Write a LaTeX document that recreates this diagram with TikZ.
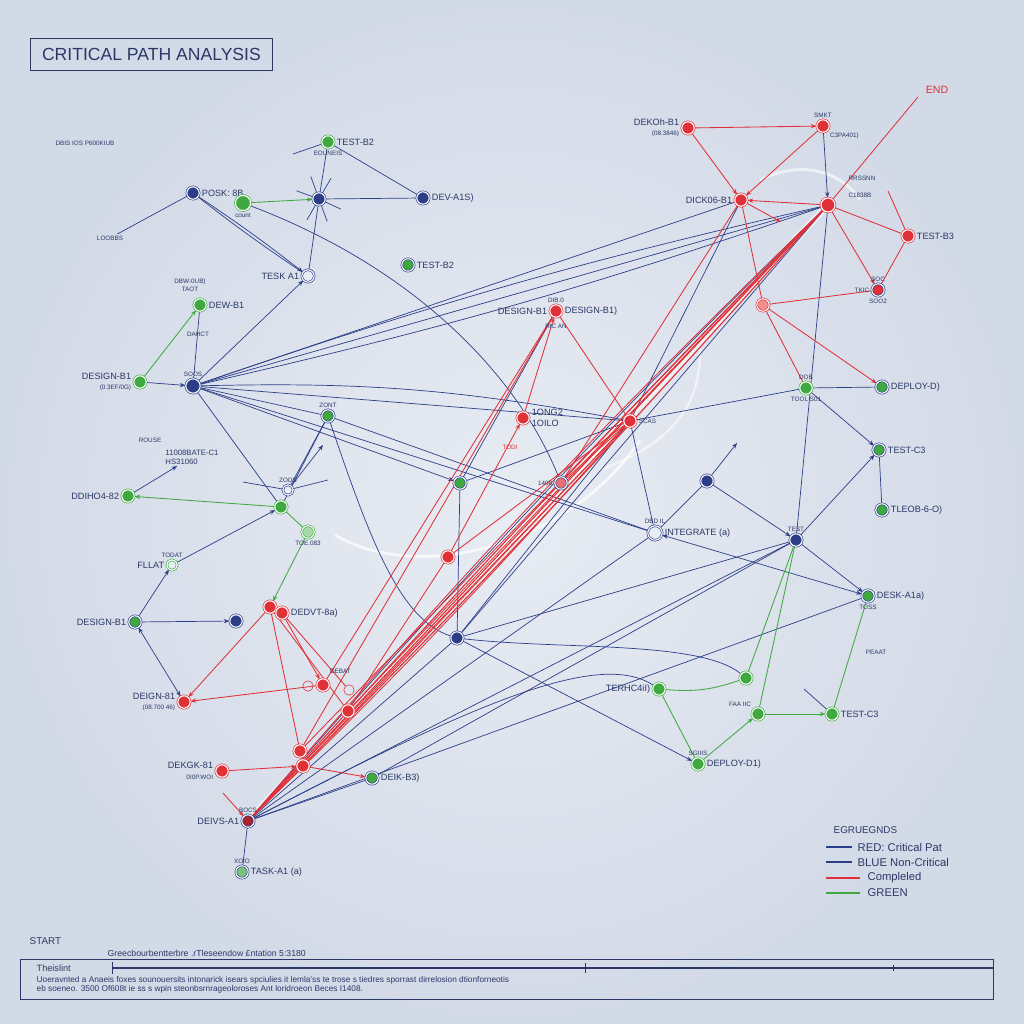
\documentclass[tikz,border=0pt]{standalone}
\usepackage{fontspec}
\setmainfont{Liberation Sans}
\usetikzlibrary{arrows.meta,backgrounds}

\definecolor{paper}{HTML}{D3DAE7}
\definecolor{paperlight}{HTML}{E8ECF3}
\definecolor{navy}{HTML}{2C3E88}
\definecolor{critred}{HTML}{DF3137}
\definecolor{donegreen}{HTML}{3FA940}
\definecolor{ink}{HTML}{2B3867}

\newcommand\labtxt{\fontsize{6.5}{7.5}\selectfont}
\newcommand\tinytxt{\fontsize{4.5}{5.5}\selectfont}

\begin{document}
\begin{tikzpicture}[
  x=0.25mm, y=-0.25mm,
  every node/.style={font=\labtxt, text=ink, inner sep=1pt},
  every label/.style={font=\labtxt, text=ink, inner sep=1.5pt},
  dot/.style={circle, minimum size=3.1mm, inner sep=0pt, line width=0.45pt, double distance=0.8pt},
  crit/.style={dot, fill=critred, draw=critred, double=white},
  noncrit/.style={dot, fill=navy, draw=navy, double=white},
  done/.style={dot, fill=donegreen, draw=donegreen, double=white},
  donebl/.style={dot, fill=donegreen, draw=navy, double=white},
  hollow/.style={dot, fill=paperlight, draw=navy, double=white},
  sub/.style={font=\tinytxt},
  flow/.style={navy, line width=0.5pt},
  critline/.style={critred, line width=0.6pt},
  doneline/.style={donegreen, line width=0.6pt},
  >={Stealth[length=4pt,width=3pt]}]

  \useasboundingbox (0,0) rectangle (1024,1024);

  % title
  \node (titlebox) [draw=ink, line width=0.6pt, minimum width=60.5mm, minimum height=8mm, anchor=north west, inner sep=0pt, font=\fontsize{12.5}{14}\selectfont] at (30,38) {CRITICAL PATH ANALYSIS};

  % left cluster
  \node (note)    at (85,143) {\tinytxt DBIS IOS P600KIUB};
  \node (loobbs)  at (110,238) {\tinytxt LOOBBS};
  \node (posk)    [noncrit, label={right:{POSK: 8B}}] at (193,193) {};
  \node (count)   [done, minimum size=3.8mm, label={[sub]below:count}] at (243,203) {};
  \node (hubA)    [noncrit] at (319,199) {};
  \node (devA)    [noncrit, label={right:DEV-A1S)}] at (423,198) {};
  \node (testBa)  [done, label={right:TEST-B2}, label={[sub]below:EOUNEIS}] at (328,142) {};
  \node (teskA)   [hollow, label={left:TESK A1}] at (308,276) {};
  \node (testBb)  [donebl, label={right:TEST-B2}] at (408,265) {};
  \node (dewtop)  [align=center, font=\tinytxt] at (190,285) {DBW-0UB)\\TAOT};
  \node (dewB)    [done, label={right:DEW-B1}] at (200,305) {};
  \node (dahct)   at (198,334) {\tinytxt DAHCT};
  \node (designBa)[done, label={[align=right]left:{DESIGN-B1\\\tinytxt(0.3EF/0G)}}] at (140,382) {};
  \node (hubB)    [noncrit, minimum size=3.6mm, label={[sub]above:SOOS}] at (193,386) {};
  \node (zont)    [donebl, label={[sub]above:ZONT}] at (328,416) {};
  \node (rouse)   at (150,440) {\tinytxt ROUSE};
  \node (batec)   [align=left, font=\fontsize{5.5}{6.5}\selectfont] at (192,457) {11008BATE-C1\\HS31060};
  \node (ddiho)   [done, label={left:DDIHO4-82}] at (128,496) {};
  \node (zods)    [hollow, minimum size=2.6mm, label={[sub]above:ZODS}] at (288,490) {};
  \node (midG)    [done] at (281,507) {};
  \node (toe)     [done, fill=donegreen!45, label={[sub]below:TOE.083}] at (308,532) {};
  \node (fllat)   [done, fill=paperlight, minimum size=2.6mm, label={left:FLLAT}, label={[sub]above:TODAT}] at (172,565) {};
  \node (designBb)[donebl, label={left:DESIGN-B1}] at (135,622) {};
  \node (blueC)   [noncrit] at (236,621) {};
  \node (dedvt)   [crit] at (270,607) {};
  \node (dedvtB)  [crit, label={right:DEDVT-8a)}] at (282,613) {};
  \node (deign)   [crit, label={[align=right]left:{DEIGN-81\\\tinytxt(08.700 46)}}] at (184,702) {};
  \node (ringa)   [circle, draw=critred, minimum size=2.6mm] at (308,686) {};
  \node (ringb)   [circle, draw=critred, minimum size=2.6mm] at (349,690) {};
  \node (debat)   [crit, label={[sub, yshift=3pt]above right:DEBAT}] at (323,685) {};
  \node (critE)   [crit] at (348,711) {};
  \node (critF)   [crit] at (300,751) {};
  \node (critG)   [crit] at (303,766) {};
  \node (dekgk)   [crit, label={[align=right]left:{DEKGK-81\\\tinytxt 0I0P.WOI}}] at (222,771) {};
  \node (deik)    [donebl, label={right:DEIK-B3)}] at (372,778) {};
  \node (start)   [noncrit, fill=critred!75!black, label={left:DEIVS-A1}, label={[sub]above:BOCS}] at (248,821) {};
  \node (taskA)   [donebl, fill=donegreen!70, label={right:TASK-A1 (a)}, label={[sub]above:XOIO}] at (242,872) {};

  % middle
  \node (designC) [crit, label={left:DESIGN-B1}, label={right:DESIGN-B1)}, label={[sub, yshift=-3pt]below:RIC AN}, label={[sub]above:DIB.0}] at (556,311) {};
  \node (long)    [crit, label={[align=left]right:{1ONG2\\1OILO}}] at (523,418) {};
  \node (todi)    [text=critred] at (510,447) {\tinytxt TODI};
  \node (midGreen)[donebl] at (460,483) {};
  \node (ringR)   [dot, fill=critred!70, draw=navy, double=white, label={[sub]left:1408}] at (561,483) {};
  \node (critH)   [crit] at (448,557) {};
  \node (blueD)   [noncrit] at (457,638) {};
  \node (scas)    [crit, label={[sub]right:SCAS}] at (630,421) {};
  \node (blueE)   [noncrit] at (707,481) {};
  \node (integ)   [hollow, minimum size=3.6mm, label={right:INTEGRATE (a)}, label={[sub]above:DBD IL}] at (655,533) {};
  \node (testD)   [noncrit, label={[sub]above:TEST}] at (796,540) {};
  \node (desk)    [donebl, label={right:DESK-A1a)}, label={[sub]below:TOSS}] at (868,596) {};
  \node (peaat)   at (876,652) {\tinytxt PEAAT};

  % top right
  \node (dekoh)   [crit, label={[align=right]left:{DEKOh-B1\\\tinytxt(08.3846)}}] at (688,128) {};
  \node (smkt)    [crit, label={[sub]above:SMKT}, label={[sub]below right:C3PA401)}] at (823,126) {};
  \node (dickog)  [crit, label={left:DICK06-B1}] at (741,200) {};
  \node (hubC)    [crit, minimum size=3.5mm] at (828,205) {};
  \node (rrss)    at (862,178) {\tinytxt RRSSNN};
  \node (cnum)    at (860,195) {\tinytxt C1838B};
  \node (testB3)  [crit, label={right:TEST-B3}] at (908,236) {};
  \node (tkic)    [crit, draw=navy, label={[sub]left:TKIC}, label={[sub]above:SOC}, label={[sub]below:SOO2}] at (878,290) {};
  \node (critI)   [dot, fill=critred!55, draw=critred, double=white] at (763,305) {};
  \node (tool)    [done, label={[sub]above:DOB}, label={[sub]below:TOOL S01}] at (806,388) {};
  \node (deployD) [donebl, label={right:DEPLOY-D)}] at (882,387) {};
  \node (testC)   [donebl, label={right:TEST-C3}] at (879,450) {};
  \node (tleob)   [donebl, label={right:TLEOB-6-O)}] at (882,510) {};
  \node (endlbl)  [text=critred, font=\fontsize{7.5}{9}\selectfont] at (937,90) {END};
  \coordinate (endc) at (918,97);

  % bottom right
  \node (terhc)   [done, label={left:TERHC4iI)}] at (659,689) {};
  \node (greenJ)  [done] at (746,678) {};
  \node (faaic)   [done, label={[sub]above left:FAA IIC}] at (758,714) {};
  \node (testCb)  [done, label={right:TEST-C3}] at (832,714) {};
  \node (deployDb)[done, label={right:DEPLOY-D1)}, label={[sub]above:SGIIIS}] at (698,764) {};

  % legend
  \node (legend)  [anchor=west, font=\fontsize{7}{8}\selectfont] at (832,830) {EGRUEGNDS};
  \draw[navy, line width=1.3pt] (826,847) -- (852,847);
  \node (legA)    [anchor=west, font=\fontsize{8}{9}\selectfont] at (856,847) {RED: Critical Pat};
  \draw[navy, line width=1.3pt] (826,862) -- (852,862);
  \node (legB)    [anchor=west, font=\fontsize{8}{9}\selectfont] at (856,862) {BLUE Non-Critical};
  \draw[critred, line width=1.3pt] (826,878) -- (860,878);
  \node (legC)    [anchor=west, font=\fontsize{8}{9}\selectfont] at (866,878) {Compleled};
  \draw[donegreen, line width=1.3pt] (826,893) -- (860,893);
  \node (legD)    [anchor=west, font=\fontsize{8}{9}\selectfont] at (866,893) {GREEN};

  % timeline
  \node (startlbl) [anchor=west, font=\fontsize{7}{8}\selectfont] at (28,941) {START};
  \node (tlhead)   [anchor=west, font=\fontsize{6.2}{7}\selectfont] at (106,953) {Greecbourbentterbre .rTleseendow £ntation 5:3180};
  \draw[ink, line width=0.6pt] (20,959) rectangle (993,999);
  \node (tlname)   [anchor=west, font=\fontsize{6.5}{7.5}\selectfont] at (35,968) {Theislint};
  \draw[ink, line width=0.8pt] (112,968) -- (993,968);
  \draw[ink] (112,962) -- (112,974) (585,963) -- (585,973) (893,965) -- (893,971);
  \node (tltext)   [anchor=north west, align=left, font=\fontsize{5.9}{6.6}\selectfont] at (35,975) {Uoeravnted a Anaeis foxes sounouersits intonarick isears spciulies it lemla'ss te trose s tiedres sporrast dirrelosion dtionforneotis\\eb soeneo. 3500 Of608t ie ss s wpin steonbsrnrageoloroses Ant loridroeon Beces I1408.};

  \begin{scope}[on background layer]
    \shade[inner color=paperlight, outer color=paper] (0,0) rectangle (1024,1024);
    % glow
    \draw[white, opacity=0.7, line width=2pt] (335,535) .. controls (420,585) and (570,545) .. (640,440);
    \draw[white, opacity=0.6, line width=1.5pt] (600,470) .. controls (680,440) and (700,400) .. (700,350);
    \draw[white, opacity=0.6, line width=2pt] (760,180) .. controls (800,160) and (840,170) .. (860,200);
    \draw[white, opacity=0.5, line width=5pt] (start) -- (hubC);

    % non critical links
    \draw[flow] (loobbs) -- (posk);
    \draw[flow,->] (posk) to[bend left=2] (teskA);
    \draw[flow] (posk) to[bend right=2] (teskA);
    \draw[flow] (hubA) -- (devA);
    \draw[flow] (testBa) -- (hubA);
    \draw[flow] (testBa) -- (devA);
    \draw[flow] (hubA) -- (teskA);
    \foreach \ang in {25,70,120,200,250,300}
      \draw[flow] (hubA) -- ++(\ang:24);
    \draw[flow] (testBa) -- ++(-35,12);
    \draw[flow] (count) .. controls (420,270) and (520,380) .. (ringR);
    \draw[flow,->] (designBa) -- (hubB);
    \draw[flow] (hubB) -- (dewB);
    \draw[flow,->] (hubB) -- (teskA);
    \draw[flow] (hubB) -- (dickog);
    \draw[flow] (hubB) to[bend left=3] (hubC);
    \draw[flow] (hubB) -- (hubC);
    \draw[flow] (hubB) to[bend right=3] (hubC);
    \draw[flow] (hubB) -- (scas);
    \draw[flow] (hubB) to[bend left=6] (scas);
    \draw[flow] (hubB) -- (integ);
    \draw[flow,->] (hubB) -- (midGreen);
    \draw[flow] (hubB) -- (zont);
    \draw[flow] (hubB) -- (midG);
    \draw[flow] (zont) -- (zods);
    \draw[flow] (zont) -- (midG);
    \draw[flow] (zont) .. controls (370,540) and (400,620) .. (blueD);
    \draw[flow] (zont) -- (integ);
    \draw[flow,->] (ddiho) -- (batec);
    \draw[flow] (zods) -- ++(-45,-8);
    \draw[flow] (zods) -- ++(40,-10);
    \draw[flow,->] (zods) -- ++(35,-45);
    \draw[flow,->] (fllat) -- (midG);
    \draw[flow,->] (designBb) -- (fllat);
    \draw[flow,->] (designBb) -- (blueC);
    \draw[flow,<->] (designBb) -- (deign);
    \draw[flow] (start) -- (taskA);
    \draw[flow] (start) -- (testD);
    \draw[flow] (start) -- (desk);
    \draw[flow] (start) -- (integ);
    \draw[flow] (start) -- (blueD);
    \draw[flow] (start) -- (deik);
    \draw[flow] (start) to[bend left=2] (hubC);
    \draw[flow] (blueD) -- (testD);
    \draw[flow] (blueD) -- (scas);
    \draw[flow] (blueD) -- (hubC);
    \draw[flow,->] (blueD) -- (deployDb);
    \draw[flow] (deik) -- (testD);
    \draw[flow] (midGreen) -- (scas);
    \draw[flow] (midGreen) -- (designC);
    \draw[flow] (midGreen) -- (blueD);
    \draw[flow,<->] (desk) -- (integ);
    \draw[flow,->] (testD) -- (desk);
    \draw[flow,->] (testD) -- (testC);
    \draw[flow] (testD) -- (hubC);
    \draw[flow] (blueE) -- (integ);
    \draw[flow,->] (blueE) -- (testD);
    \draw[flow,->] (blueE) -- ++(30,-38);
    \draw[flow] (scas) -- (integ);
    \draw[flow] (scas) -- (tool);
    \draw[flow] (tool) -- (deployD);
    \draw[flow,->] (tool) -- (testC);
    \draw[flow] (testC) -- (tleob);
    \draw[flow,->] (smkt) -- (hubC);
    \draw[flow] (dickog) -- (scas);
    \draw[flow] (terhc) .. controls (600,650) and (480,700) .. (start);
    \draw[flow] (greenJ) .. controls (700,640) and (560,650) .. (blueD);
    \draw[flow] (testCb) -- ++(-28,-25);

    % completed links
    \draw[doneline,->] (count) -- (hubA);
    \draw[doneline,->] (designBa) -- (dewB);
    \draw[doneline,->] (midG) -- (ddiho);
    \draw[doneline,->] (toe) -- (dedvt);
    \draw[doneline] (midG) -- (toe);
    \draw[doneline] (terhc) to[bend right=12] (greenJ);
    \draw[doneline] (terhc) -- (deployDb);
    \draw[doneline,->] (deployDb) -- (faaic);
    \draw[doneline,->] (faaic) -- (testCb);
    \draw[doneline] (testCb) -- (desk);
    \draw[doneline] (greenJ) -- (testD);
    \draw[doneline] (faaic) -- (testD);

    % critical path
    \draw[critline,->] (dekoh) -- (smkt);
    \draw[critline,->] (dekoh) -- (dickog);
    \draw[critline,->] (smkt) -- (dickog);
    \draw[critline,->] (hubC) -- (dickog);
    \draw[critline] (hubC) -- (endc);
    \draw[critline] (hubC) -- (testB3);
    \draw[critline,->] (hubC) -- (tkic);
    \draw[critline] (testB3) -- (tkic);
    \draw[critline] (tkic) -- (critI);
    \draw[critline] (dickog) -- (critI);
    \draw[critline] (dickog) -- (ringR);
    \draw[critline,->] (dickog) -- ++(40,22);
    \draw[critline,->] (critI) -- (deployD);
    \draw[critline] (critI) -- (tool);
    \draw[critline] (testB3) -- ++(-20,-45);
    \draw[critline, line width=0.8pt] (start) -- (hubC);
    \draw[critline, line width=0.8pt] (start) to[bend left=1] (hubC);
    \draw[critline, line width=0.8pt] (start) to[bend right=1.5] (hubC);
    \draw[critline] (start) to[bend left=2.5] (hubC);
    \draw[critline] (start) -- (scas);
    \draw[critline] (start) to[bend right=2] (scas);
    \draw[critline] (critF) -- (hubC);
    \draw[critline] (critE) -- (hubC);
    \draw[critline] (critG) -- (scas);
    \draw[critline] (critF) -- (designC);
    \draw[critline] (debat) -- (designC);
    \draw[critline] (designC) -- (scas);
    \draw[critline,->] (long) -- (designC);
    \draw[critline,->] (critH) -- (long);
    \draw[critline] (critH) -- (scas);
    \draw[critline] (critE) -- (critH);
    \draw[critline] (ringR) -- (scas);
    \draw[critline,->] (dedvt) -- (deign);
    \draw[critline,->] (dedvtB) -- (debat);
    \draw[critline] (dedvt) -- (critE);
    \draw[critline] (dedvt) -- (critF);
    \draw[critline] (dedvtB) -- (ringb);
    \draw[critline,->] (debat) -- (deign);
    \draw[critline,->] (dekgk) -- (critG);
    \draw[critline,->] (critG) -- (deik);
    \draw[critline,->] (start) ++(-25,-28) -- (start);
  \end{scope}

\end{tikzpicture}
\end{document}
